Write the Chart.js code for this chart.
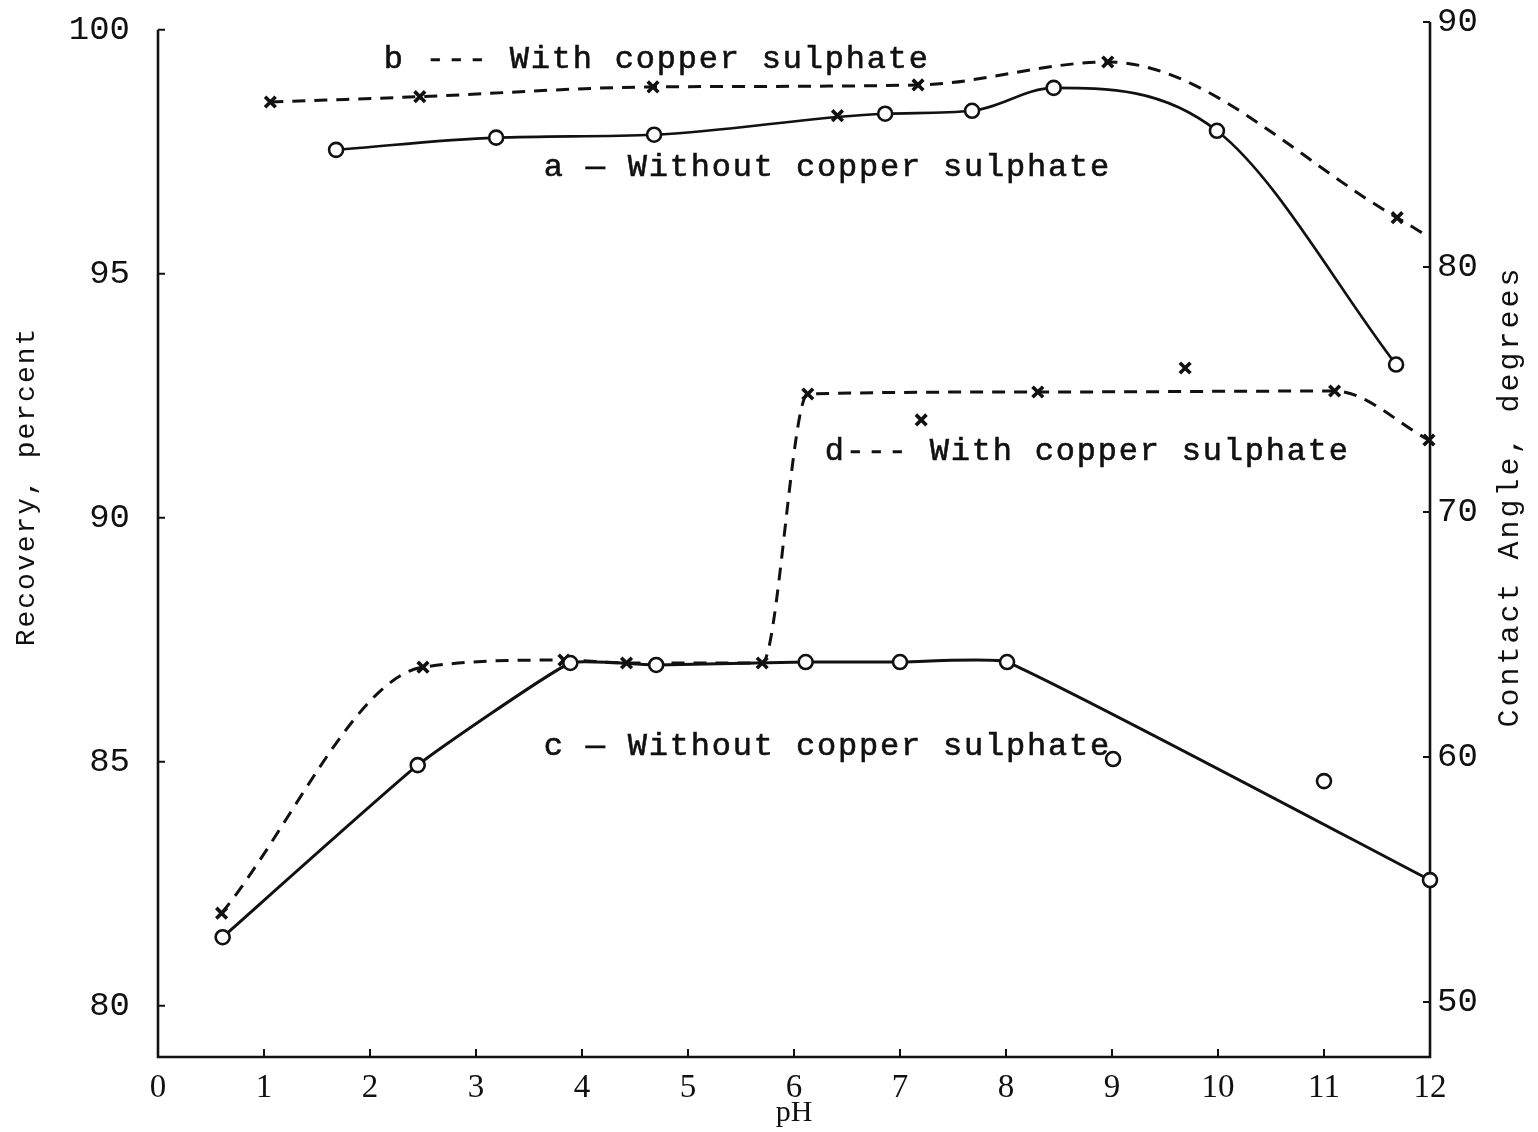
<!DOCTYPE html>
<html>
<head>
<meta charset="utf-8">
<script src="https://cdn.jsdelivr.net/npm/chart.js@4.4.1/dist/chart.umd.min.js"></script>
<style>
  html, body { margin: 0; padding: 0; background: #fff; }
  #wrap { width: 1538px; height: 1132px; position: relative; }
</style>
</head>
<body>
<div id="wrap"><canvas id="chart" width="1538" height="1132"></canvas></div>
<script>
// pH on the x axis
const phTicks = [0, 1, 2, 3, 4, 5, 6, 7, 8, 9, 10, 11, 12];
const recoveryTicks = [80, 85, 90, 95, 100];
const angleTicks = [50, 60, 70, 80, 90];

// a: recovery without copper sulphate
const phA = [1.68, 3.19, 4.68, 6.86, 7.68, 8.45, 9.99, 11.68];
const recoveryA = [97.54, 97.79, 97.85, 98.28, 98.34, 98.81, 97.93, 93.14];

// b: recovery with copper sulphate (curve runs on to pH 12)
const phB = [1.06, 2.47, 4.67, 7.17, 8.96, 11.69, 12.0];
const recoveryB = [98.52, 98.63, 98.83, 98.87, 99.34, 96.15, 95.74];
const phBExtra = [6.41];
const recoveryBExtra = [98.24];

// c: contact angle without copper sulphate
const phC = [0.61, 2.45, 3.89, 4.70, 6.11, 7.00, 8.01, 12.0];
const angleC = [52.65, 59.67, 63.84, 63.76, 63.88, 63.88, 63.88, 54.98];
const phCExtra = [9.01, 11.0];
const angleCExtra = [59.92, 59.02];

// d: contact angle with copper sulphate
const phD = [0.60, 2.50, 3.83, 4.42, 5.70, 6.13, 8.30, 11.10, 11.99];
const angleD = [53.63, 63.67, 63.96, 63.84, 63.84, 74.82, 74.90, 74.94, 72.94];
const phDExtra = [7.20, 9.69];
const angleDExtra = [73.76, 75.88];

const leftTitle = 'Recovery, percent';
const rightTitle = 'Contact Angle, degrees';
const curveLabels = [
  { text: 'b --- With copper sulphate',   x: 2.13, y: 99.39, axis: 'yL' },
  { text: 'a \u2014 Without copper sulphate', x: 3.64, y: 97.17, axis: 'yL' },
  { text: 'd--- With copper sulphate',    x: 6.29, y: 72.45, axis: 'yR' },
  { text: 'c \u2014 Without copper sulphate', x: 3.64, y: 60.45, axis: 'yR' }
];

const INK = '#111';
const pts = (xs, ys) => xs.map((x, i) => ({ x, y: ys[i] }));

const circleMarker = {
  pointStyle: 'circle', pointRadius: 7, pointBorderWidth: 2.6,
  pointBackgroundColor: '#fff', pointBorderColor: INK
};
const crossMarker = {
  pointStyle: 'crossRot', pointRadius: 7.5, pointBorderWidth: 3.6,
  pointBorderColor: INK, pointBackgroundColor: INK
};

const datasets = [
  Object.assign({
    label: 'a', data: pts(phA, recoveryA), yAxisID: 'yL', showLine: true,
    borderColor: INK, borderWidth: 2.6, tension: 0.4, cubicInterpolationMode: 'monotone'
  }, circleMarker),
  Object.assign({
    label: 'b', data: pts(phB, recoveryB), yAxisID: 'yL', showLine: true,
    borderColor: INK, borderWidth: 3, borderDash: [13, 9], tension: 0.4,
    cubicInterpolationMode: 'monotone'
  }, crossMarker, { pointRadius: phB.map((_, i) => i === phB.length - 1 ? 0 : 7.5) }),
  Object.assign({
    label: 'b extra', data: pts(phBExtra, recoveryBExtra), yAxisID: 'yL', showLine: false
  }, crossMarker),
  Object.assign({
    label: 'c', data: pts(phC, angleC), yAxisID: 'yR', showLine: true,
    borderColor: INK, borderWidth: 3, tension: 0.12
  }, circleMarker),
  Object.assign({
    label: 'c extra', data: pts(phCExtra, angleCExtra), yAxisID: 'yR', showLine: false
  }, circleMarker),
  Object.assign({
    label: 'd', data: pts(phD, angleD), yAxisID: 'yR', showLine: true,
    borderColor: INK, borderWidth: 3, borderDash: [13, 9], tension: 0.4,
    cubicInterpolationMode: 'monotone'
  }, crossMarker),
  Object.assign({
    label: 'd extra', data: pts(phDExtra, angleDExtra), yAxisID: 'yR', showLine: false
  }, crossMarker)
];

// Axis lines, inward tick marks, rotated axis titles and curve captions
const paperAxes = {
  id: 'paperAxes',
  beforeDatasetsDraw(chart) {
    const { ctx, chartArea: a, scales } = chart;
    const x = scales.x, yL = scales.yL, yR = scales.yR;
    ctx.save();
    ctx.strokeStyle = INK;
    ctx.lineWidth = 2.6;
    ctx.beginPath();
    ctx.moveTo(a.left, yL.getPixelForValue(100));
    ctx.lineTo(a.left, a.bottom);
    ctx.lineTo(a.right, a.bottom);
    ctx.lineTo(a.right, yR.getPixelForValue(90));
    ctx.stroke();
    ctx.lineWidth = 2;
    ctx.beginPath();
    phTicks.slice(1, -1).forEach(v => {
      const px = x.getPixelForValue(v);
      ctx.moveTo(px, a.bottom); ctx.lineTo(px, a.bottom - 8);
    });
    recoveryTicks.forEach(v => {
      const py = yL.getPixelForValue(v);
      ctx.moveTo(a.left, py); ctx.lineTo(a.left + 7, py);
    });
    angleTicks.forEach(v => {
      const py = yR.getPixelForValue(v);
      ctx.moveTo(a.right, py); ctx.lineTo(a.right - 7, py);
    });
    ctx.stroke();
    ctx.restore();
  },
  afterDatasetsDraw(chart) {
    const { ctx, chartArea: a, scales } = chart;
    const midY = (a.top + a.bottom) / 2;
    // typewriter ink: fill plus a hairline stroke
    const ink = (t, x, y) => { ctx.fillText(t, x, y); ctx.strokeText(t, x, y); };
    ctx.save();
    ctx.fillStyle = INK;
    ctx.strokeStyle = INK;
    ctx.lineWidth = 0.6;
    ctx.textAlign = 'center';
    ctx.textBaseline = 'middle';

    ctx.save();
    ctx.font = '28px "Liberation Mono", monospace';
    ctx.letterSpacing = '2px';
    ctx.translate(scales.yL.left + 27, midY - 53);
    ctx.rotate(-Math.PI / 2);
    ctx.fillText(leftTitle, 0, 0);
    ctx.restore();

    ctx.save();
    ctx.font = '30px "Liberation Mono", monospace';
    ctx.letterSpacing = '3px';
    ctx.translate(scales.yR.right - 28, midY - 43);
    ctx.rotate(-Math.PI / 2);
    ctx.fillText(rightTitle, 0, 0);
    ctx.restore();

    ctx.font = '32px "Liberation Mono", monospace';
    ctx.letterSpacing = '1.8px';
    ctx.textAlign = 'left';
    curveLabels.forEach(l => {
      ink(l.text, scales.x.getPixelForValue(l.x), scales[l.axis].getPixelForValue(l.y));
    });
    ctx.restore();
  }
};

const fixedTicks = list => scale => { scale.ticks = list.map(v => ({ value: v })); };
// fixed box sizes; tick-label overhang is not allowed to shrink the plot area
const fixBox = (w, h) => s => {
  if (w !== null) s.width = w;
  if (h !== null) s.height = h;
  s.paddingTop = 0; s.paddingBottom = 0; s.paddingLeft = 0; s.paddingRight = 0;
};

new Chart(document.getElementById('chart'), {
  type: 'scatter',
  data: { datasets },
  options: {
    responsive: false,
    animation: false,
    clip: false,
    layout: { padding: { top: 22, left: 0, right: 0, bottom: 0 } },
    plugins: { legend: { display: false }, tooltip: { enabled: false } },
    scales: {
      x: {
        type: 'linear', position: 'bottom', min: 0, max: 12,
        afterBuildTicks: fixedTicks(phTicks),
        afterFit: fixBox(null, 75),
        grid: { display: false, drawTicks: false },
        border: { display: false },
        ticks: { padding: 12, color: INK, maxRotation: 0, autoSkip: false,
                 font: { family: '"Liberation Serif", serif', size: 33 } },
        title: { display: true, text: 'pH', color: INK, padding: { top: 0, bottom: 1 },
                 font: { family: '"Liberation Serif", serif', size: 30 } }
      },
      yL: {
        type: 'linear', position: 'left', min: 78.95, max: 100.16,
        afterBuildTicks: fixedTicks(recoveryTicks),
        afterFit: fixBox(158, null),
        grid: { display: false, drawTicks: false },
        border: { display: false },
        ticks: { padding: 28, color: INK, autoSkip: false,
                 font: { family: '"Liberation Mono", monospace', size: 34 } },
        title: { display: false, text: leftTitle }
      },
      yR: {
        type: 'linear', position: 'right', min: 47.76, max: 90,
        afterBuildTicks: fixedTicks(angleTicks),
        afterFit: fixBox(108, null),
        grid: { display: false, drawTicks: false },
        border: { display: false },
        ticks: { padding: 7, color: INK, autoSkip: false,
                 font: { family: '"Liberation Mono", monospace', size: 34 } },
        title: { display: false, text: rightTitle }
      }
    }
  },
  plugins: [paperAxes]
});
</script>
</body>
</html>
